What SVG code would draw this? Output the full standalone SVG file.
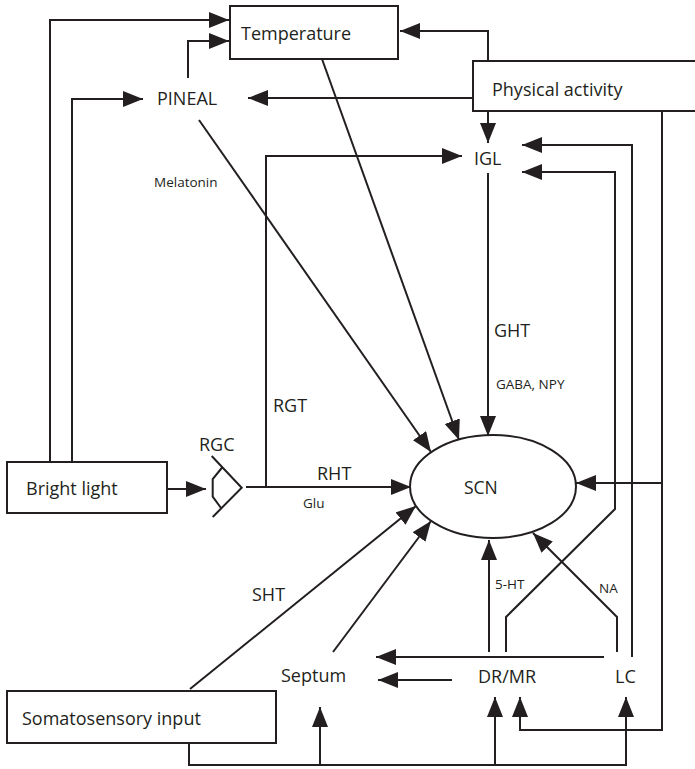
<svg xmlns="http://www.w3.org/2000/svg" width="695" height="769" viewBox="0 0 695 769">
<defs>
<marker id="ah" markerUnits="userSpaceOnUse" markerWidth="21" markerHeight="17" refX="20" refY="8" orient="auto" viewBox="0 0 21 17">
<path d="M0,0 L20,8 L0,16 Z" fill="#231f20"/>
</marker>
</defs>
<style>
text{font-family:"Open Sans","Liberation Sans",sans-serif;fill:#231f20}
.l{font-size:18px}
.s{font-size:13.5px}
.box{fill:#fff;stroke:#231f20;stroke-width:2}
.c{fill:none;stroke:#231f20;stroke-width:2}
.a{marker-end:url(#ah)}
</style>
<rect width="695" height="769" fill="#fff"/>
<g id="connectors">
<path class="c a" d="M50,462 V20 H229"/>
<path class="c a" d="M72,462 V99 H143"/>
<path class="c a" d="M188,78 V41 H229"/>
<path class="c a" d="M488,61 V31 H400"/>
<path class="c a" d="M472,98 H248"/>
<path class="c a" d="M488,111 V143"/>
<path class="c a" d="M266,487 V156 H462"/>
<path class="c a" d="M488,173 V436"/>
<path class="c a" d="M199,120 L431,452"/>
<path class="c a" d="M322,59 L459,440"/>
<path class="c a" d="M167,489 H206"/>
<path class="c a" d="M246,487 H411"/>
<path class="c a" d="M190,689 L416,506"/>
<path class="c a" d="M333,652 L431,521"/>
<path class="c a" d="M489,652 V540"/>
<path class="c a" d="M617,652 V617 L533,533"/>
<path class="c a" d="M506,652 V617 L615,509 V172 H522"/>
<path class="c a" d="M632,657 V145 H522"/>
<path class="c a" d="M662,111 V730 H520 V697"/>
<path class="c a" d="M662,483 H576"/>
<path class="c a" d="M604,657 H376"/>
<path class="c a" d="M452,680 H378"/>
<path class="c a" d="M189,743 V765 H626 V697"/>
<path class="c a" d="M320,765 V707"/>
<path class="c a" d="M495,765 V697"/>
</g>
<g id="temperature"><rect class="box" x="230" y="6" width="168" height="53"/><text class="l" x="241" y="40">Temperature</text></g>
<g id="physical-activity"><rect class="box" x="473" y="61" width="225" height="50"/><text class="l" x="492" y="96">Physical activity</text></g>
<g id="pineal"><text class="l" x="157" y="105">PINEAL</text></g>
<g id="melatonin-label"><text class="s" x="154" y="187">Melatonin</text></g>
<g id="igl"><text class="l" x="474" y="165">IGL</text></g>
<g id="bright-light"><rect class="box" x="7" y="462" width="160" height="51"/><text class="l" x="26" y="495">Bright light</text></g>
<g id="rgc">
<text class="l" x="199" y="451">RGC</text>
<path class="c" d="M211.7,456 L241.7,487.7 L212.7,517 M221.7,468 L212.7,479 L212.7,496.7 L221,508"/>
</g>
<g id="scn"><ellipse class="box" cx="493" cy="486.5" rx="83" ry="51.5"/><text class="l" x="464" y="494" style="font-size:17.5px">SCN</text></g>
<g id="labels">
<text class="l" x="273" y="412">RGT</text>
<text class="l" x="494" y="337">GHT</text>
<text class="s" x="496" y="389">GABA, NPY</text>
<text class="l" x="317" y="480">RHT</text>
<text class="s" x="303" y="508">Glu</text>
<text class="l" x="252" y="601">SHT</text>
<text class="s" x="495" y="589">5-HT</text>
<text class="s" x="599" y="593">NA</text>
</g>
<g id="septum"><text class="l" x="281" y="682">Septum</text></g>
<g id="dr-mr"><text class="l" x="478" y="683">DR/MR</text></g>
<g id="lc"><text class="l" x="615" y="683">LC</text></g>
<g id="somatosensory-input"><rect class="box" x="7" y="691" width="269" height="52"/><text class="l" x="22" y="725">Somatosensory input</text></g>
</svg>
